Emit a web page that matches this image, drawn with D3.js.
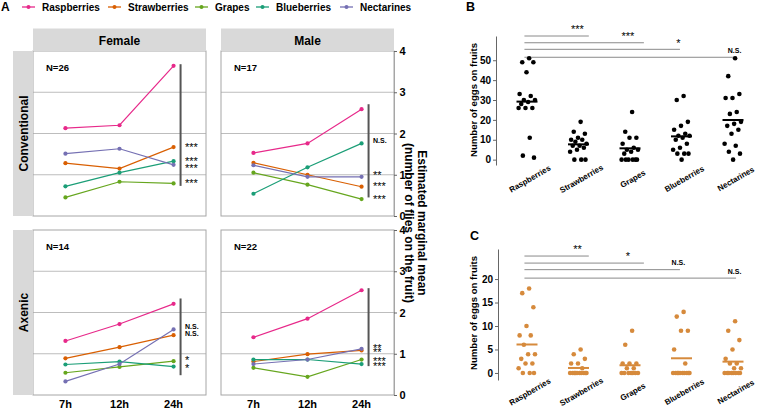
<!DOCTYPE html>
<html><head><meta charset="utf-8">
<script src="https://cdn.jsdelivr.net/npm/d3@7"></script>
<style>body{margin:0;background:#fff} svg{display:block;font-family:"Liberation Sans",Arial,sans-serif}</style>
</head><body><svg id="c" width="758" height="411"></svg>
<script>
// ---------- DATA ----------
const fruits = ["Raspberries","Strawberries","Grapes","Blueberries","Nectarines"];
const fruitColors = ["#E7298A","#D95F02","#66A61E","#1B9E77","#7570B3"];
const times = ["7h","12h","24h"];
const sexes = ["Female","Male"];
const conditions = ["Conventional","Axenic"];
const yTicksA = [0,1,2,3,4];
// estimated marginal means, rows follow `fruits`, columns follow `times`
const convFemale = [[2.13,2.20,3.64],[1.28,1.15,1.67],[0.45,0.83,0.79],[0.72,1.05,1.33],[1.51,1.63,1.24]];
const convMale   = [[1.53,1.76,2.59],[1.29,1.00,0.71],[1.05,0.76,0.41],[0.54,1.18,1.76],[1.23,0.95,0.95]];
const axFemale   = [[1.31,1.72,2.21],[0.89,1.16,1.45],[0.54,0.68,0.82],[0.74,0.81,0.69],[0.33,0.75,1.59]];
const axMale     = [[1.40,1.85,2.54],[0.81,0.99,1.08],[0.66,0.44,0.86],[0.86,0.86,0.75],[0.75,0.86,1.12]];
const sampleSizes = [26,17,14,22]; // conv F, conv M, axenic F, axenic M
// significance bars (data units) and labels per panel
const sigBarA = [[3.68,0.73],[2.71,0.45],[2.34,0.48],[2.59,0.70]];
const sigLabA = [["***","***","***","***"],["N.S.","**","***","***"],["N.S.","N.S.","*","*"],["**","**","***","***"]];
const sigPosA = [[1.74,1.38,1.21,0.85],[1.82,1.05,0.78,0.47],[1.67,1.49,0.90,0.70],[1.20,1.10,0.88,0.75]];

// eggs laid per fruit (panel B conventional, panel C axenic)
const eggsConv = [
  [51,49,49,44,33,32,30,30,29,28,26,26,26,11,2,1],
  [19,14,13,11,10,10,9,8,7,7,6,5,4,0,0,0],
  [24,14,11,11,8,6,5,5,4,3,0,0,0,0,0,0],
  [32,30,19,17,15,13,12,12,11,10,8,6,5,3,3,3,0],
  [51,42,33,31,31,24,23,19,18,17,15,13,8,7,4,3,0]
];
const eggsAxenic = [
  [18,17,14,10,8,8,6,4,4,3,2,2,1,0,0,0],
  [5,4,3,2,2,1,0,0,0,0,0,0,0,0,0,0],
  [9,6,2,2,2,1,1,0,0,0,0,0,0,0],
  [13,12,9,9,5,2,0,0,0,0,0,0,0,0,0,0],
  [11,9,7,5,3,2,2,1,1,0,0,0,0,0,0,0,0]
];
const yTicksB = [0,10,20,30,40,50];
const yTicksC = [0,5,10,15,20];
const sigLabB = ["***","***","*","N.S."];
const sigYB = [62.2,58.8,55.5,51.5];
const sigLabC = ["**","*","N.S.","N.S."];
const sigYC = [24.9,23.4,22.0,20.2];
const sigEnd = [2.2,3.27,3.97,5.06];       // in category-index units
const sigLabX = [1.98,2.96,3.94,5.03];

// ---------- DRAW ----------
const svg = d3.select("#c");
const bold = "bold";
const FONT = "Liberation Sans, Arial, sans-serif";

// legend
svg.append("text").attr("x",1).attr("y",11).attr("font-size",12).attr("font-weight",bold).text("A");
const legX = [22,108,195,256,340];
fruits.forEach((f,i)=>{
  const g = svg.append("g").attr("transform",`translate(${legX[i]},7)`);
  g.append("line").attr("x1",0).attr("x2",13).attr("stroke",fruitColors[i]).attr("stroke-width",1.3);
  g.append("circle").attr("cx",6.5).attr("r",2).attr("fill",fruitColors[i]);
  g.append("text").attr("x",20).attr("y",3.6).attr("font-size",10).attr("font-weight",bold).text(f);
});

const colX = [[33,206],[221,394]];
const rowY = [[51,216],[230,395]];
const panelsA = [convFemale,convMale,axFemale,axMale];

conditions.forEach((cond,ci)=>{
  sexes.forEach((sex,si)=>{
    const k = ci*2+si;
    const data = panelsA[k];
    const x = d3.scalePoint().domain(times).range(colX[si]).padding(0.6);
    const y = d3.scaleLinear().domain([0,4]).range([rowY[ci][1],rowY[ci][0]]);
    const g = svg.append("g");
    g.append("rect").attr("x",colX[si][0]).attr("y",rowY[ci][0])
      .attr("width",colX[si][1]-colX[si][0]).attr("height",rowY[ci][1]-rowY[ci][0])
      .attr("fill","#fff");
    g.selectAll(".grid").data([1,2,3]).join("line")
      .attr("x1",colX[si][0]).attr("x2",colX[si][1])
      .attr("y1",d=>y(d)).attr("y2",d=>y(d)).attr("stroke","#bdbdbd").attr("stroke-width",1);
    g.append("rect").attr("x",colX[si][0]).attr("y",rowY[ci][0])
      .attr("width",colX[si][1]-colX[si][0]).attr("height",rowY[ci][1]-rowY[ci][0])
      .attr("fill","none").attr("stroke","#a6a6a6").attr("stroke-width",1);
    const line = d3.line().x((d,j)=>x(times[j])).y(d=>y(d));
    data.forEach((vals,fi)=>{
      g.append("path").attr("d",line(vals)).attr("fill","none")
        .attr("stroke",fruitColors[fi]).attr("stroke-width",1.2);
    });
    data.forEach((vals,fi)=>{
      g.selectAll(null).data(vals).join("circle")
        .attr("cx",(d,j)=>x(times[j])).attr("cy",d=>y(d)).attr("r",2.1).attr("fill",fruitColors[fi]);
    });
    g.append("text").attr("x",colX[si][0]+13).attr("y",rowY[ci][0]+20)
      .attr("font-size",9.5).attr("font-weight",bold).text("N="+sampleSizes[k]);
    const bx = x("24h")+7;
    g.append("line").attr("x1",bx).attr("x2",bx).attr("y1",y(sigBarA[k][0])).attr("y2",y(sigBarA[k][1]))
      .attr("stroke","#555").attr("stroke-width",2);
    sigLabA[k].forEach((lab,li)=>{
      const isStar = lab.includes("*");
      g.append("text").attr("x",bx+4.5)
        .attr("y",y(sigPosA[k][li]) + (isStar?6.3:2.5))
        .attr("font-size",isStar?11:7).attr("font-weight",isStar?"normal":bold).text(lab);
    });
    // right axis
    if (si===1){
      const ax = svg.append("g").attr("transform",`translate(${colX[1][1]},0)`)
        .call(d3.axisRight(y).tickValues(yTicksA).tickFormat(d3.format("d")).tickSize(3).tickSizeOuter(0).tickPadding(2.5));
      ax.select(".domain").attr("stroke","#a6a6a6");
      ax.selectAll(".tick line").attr("stroke","#666");
      ax.selectAll("text").attr("font-size",11).attr("font-weight",bold).attr("fill","#000").attr("font-family",FONT);
    }
    // bottom labels
    if (ci===1){
      svg.selectAll(null).data(times).join("text")
        .attr("x",d=>x(d)).attr("y",rowY[1][1]+13).attr("text-anchor","middle")
        .attr("font-size",11).attr("font-weight",bold).text(d=>d);
    }
  });
});
// column strips
sexes.forEach((s,si)=>{
  svg.append("rect").attr("x",colX[si][0]).attr("y",28.5).attr("width",colX[si][1]-colX[si][0]).attr("height",22.5).attr("fill","#d9d9d9");
  svg.append("text").attr("x",(colX[si][0]+colX[si][1])/2).attr("y",44.5).attr("text-anchor","middle")
    .attr("font-size",12).attr("font-weight",bold).text(s);
});
// row strips
conditions.forEach((c,ci)=>{
  svg.append("rect").attr("x",13).attr("y",rowY[ci][0]).attr("width",20).attr("height",rowY[ci][1]-rowY[ci][0]).attr("fill","#d9d9d9");
  const cy=(rowY[ci][0]+rowY[ci][1])/2;
  svg.append("text").attr("transform",`translate(27.5,${cy}) rotate(-90)`).attr("text-anchor","middle")
    .attr("font-size",12).attr("font-weight",bold).text(c);
});
// right axis title
const tA = svg.append("text").attr("transform","translate(417.5,223) rotate(90)").attr("text-anchor","middle")
  .attr("font-size",12).attr("font-weight",bold);
tA.append("tspan").attr("x",0).attr("dy",0).text("Estimated marginal mean");
tA.append("tspan").attr("x",0).attr("dy",12.5).text("(number of flies on the fruit)");

// ---------- Panels B & C ----------
const xCat = d3.scalePoint().domain(fruits).range([527,733]);
const xIdx = d3.scaleLinear().domain([1,5]).range([527,733]);
const jit = j => ((((j+1)*0.6180339) % 1) - 0.5) * 18;

function dotPanel(opts){
  const {data,y,axisX,ticks,color,letter,letterXY,ylabY,catY,sigLab,sigY} = opts;
  svg.append("text").attr("x",letterXY[0]).attr("y",letterXY[1]).attr("font-size",12.5).attr("font-weight",bold).text(letter);
  const ax = svg.append("g").attr("transform",`translate(${axisX},0)`)
    .call(d3.axisLeft(y).tickValues(ticks).tickSize(3).tickSizeOuter(0).tickPadding(2));
  ax.select(".domain").attr("stroke","#666");
  ax.selectAll(".tick line").attr("stroke","#666");
  ax.selectAll("text").attr("font-size",10).attr("font-weight",bold).attr("fill","#000").attr("font-family",FONT);
  svg.append("text").attr("transform",`translate(477,${ylabY}) rotate(-90)`).attr("text-anchor","middle")
    .attr("font-size",9.6).attr("font-weight",bold).text("Number of eggs on fruits");
  sigLab.forEach((lab,i)=>{
    svg.append("line").attr("x1",xIdx(0.95)).attr("x2",xIdx(sigEnd[i])).attr("y1",y(sigY[i])).attr("y2",y(sigY[i]))
      .attr("stroke","#8a8a8a").attr("stroke-width",1);
    const isStar = lab.includes("*");
    svg.append("text").attr("x",xIdx(sigLabX[i])).attr("y",y(sigY[i]) - (isStar?2.8:4.5)).attr("text-anchor","middle")
      .attr("font-size",isStar?11:7).attr("font-weight",isStar?"normal":bold).text(lab);
  });
  data.forEach((vals,fi)=>{
    const cx = xCat(fruits[fi]);
    svg.selectAll(null).data(vals).join("circle")
      .attr("cx",(d,j)=>cx+jit(j)).attr("cy",d=>y(d)).attr("r",2.3).attr("fill",color);
    const m = d3.mean(vals);
    svg.append("line").attr("x1",cx-10.5).attr("x2",cx+10.5).attr("y1",y(m)).attr("y2",y(m))
      .attr("stroke",color).attr("stroke-width",2);
    svg.append("text").attr("transform",`translate(${cx+3},${catY}) rotate(-30)`).attr("text-anchor","middle")
      .attr("dominant-baseline","central").attr("font-size",8).attr("font-weight",bold).text(fruits[fi]);
  });
}
dotPanel({data:eggsConv, y:d3.scaleLinear().domain([-2.7,62.2]).range([165,36]), axisX:496, ticks:yTicksB,
  color:"#000", letter:"B", letterXY:[466,11], ylabY:100, catY:179, sigLab:sigLabB, sigY:sigYB});
dotPanel({data:eggsAxenic, y:d3.scaleLinear().domain([-1.5,26.4]).range([380,249]), axisX:498, ticks:yTicksC,
  color:"#D68A3C", letter:"C", letterXY:[470,240], ylabY:313, catY:392, sigLab:sigLabC, sigY:sigYC});
</script></body></html>
